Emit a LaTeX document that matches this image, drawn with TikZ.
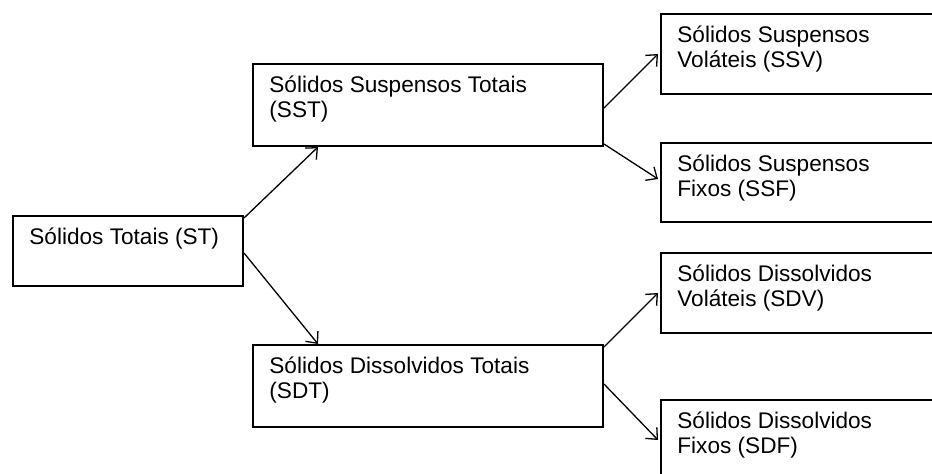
\documentclass[tikz,border=0pt]{standalone}
\usepackage{fontspec}
\setmainfont{Liberation Sans}
\usepackage{tikz}
\usetikzlibrary{positioning, arrows.meta, calc}

\begin{document}
\begin{tikzpicture}[x=0.5pt, y=-0.5pt,
    caixa/.style={draw, line width=1pt, inner sep=0pt, anchor=north west},
    texto/.style={anchor=north west, inner sep=0pt, align=left, font=\fontsize{11.3}{12.6}\selectfont},
    seta/.style={-{Straight Barb[length=4.5pt, width=8pt]}, line width=0.65pt}]

    \clip (0,0) rectangle (932,473);

    % draw boxes
    \foreach \name/\x/\y/\w/\h in {
        st/12/215/230/70,
        sst/252/63/350/82,
        sdt/252/344/350/82,
        ssv/660/13/300/80,
        ssf/660/142/300/79,
        sdv/660/252/300/80,
        sdf/660/399/300/80}
    {
        \node[caixa, minimum width=\w*0.5pt, minimum height=\h*0.5pt] (\name) at (\x,\y) {};
    }

    % texts in the boxes
    \foreach \name/\txt in {
        st/{Sólidos Totais (ST)},
        sst/{Sólidos Suspensos Totais\\(SST)},
        sdt/{Sólidos Dissolvidos Totais\\(SDT)},
        ssv/{Sólidos Suspensos\\Voláteis (SSV)},
        ssf/{Sólidos Suspensos\\Fixos (SSF)},
        sdv/{Sólidos Dissolvidos\\Voláteis (SDV)},
        sdf/{Sólidos Dissolvidos\\Fixos (SDF)}}
    {
        \node[texto] (txt\name) at ([xshift=8.5pt, yshift=-6pt]\name.north west) {\txt};
    }

    % arrows
    \draw[seta] ([yshift=-1.5pt]st.north east) -- ([xshift=33pt]sst.south west);
    \draw[seta] ([yshift=-1pt]st.east) -- ([xshift=33pt]sdt.north west);
    \draw[seta] ([yshift=-1.5pt]sst.east) -- ([xshift=-1pt]ssv.west);
    \draw[seta] ([yshift=1.5pt]sst.south east) -- ([xshift=-1pt, yshift=1.75pt]ssf.west);
    \draw[seta] ([yshift=-1.5pt]sdt.north east) -- ([xshift=-1pt]sdv.west);
    \draw[seta] ([yshift=1pt]sdt.east) -- ([xshift=-1pt]sdf.west);
\end{tikzpicture}
\end{document}
